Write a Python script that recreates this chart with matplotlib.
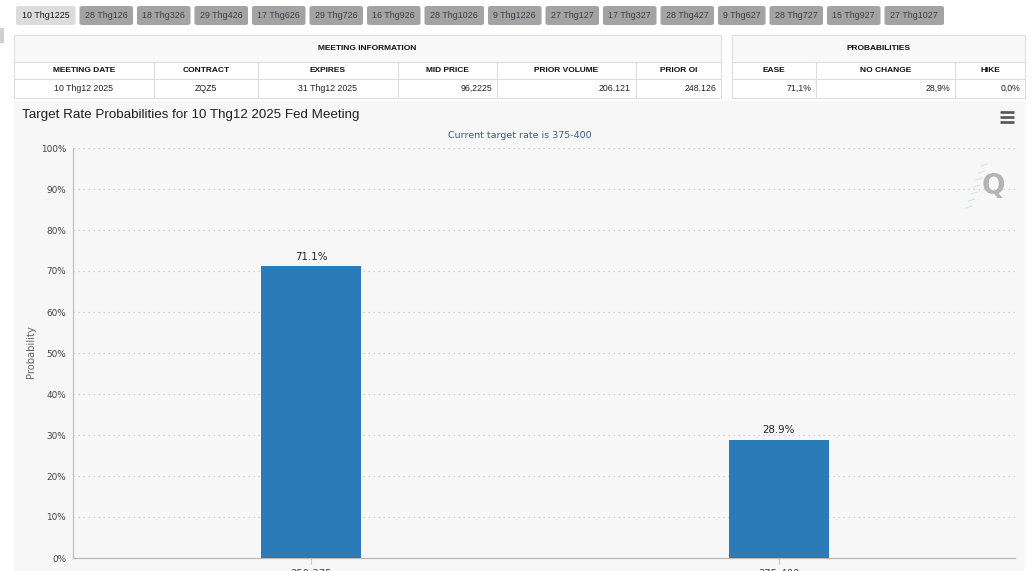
import matplotlib
matplotlib.use("Agg")
import matplotlib.pyplot as plt
from matplotlib.patches import Rectangle, FancyBboxPatch
from matplotlib.lines import Line2D

# ---------------- data ----------------
tab_labels = ["10 Thg1225", "28 Thg126", "18 Thg326", "29 Thg426", "17 Thg626",
              "29 Thg726", "16 Thg926", "28 Thg1026", "9 Thg1226", "27 Thg127",
              "17 Thg327", "28 Thg427", "9 Thg627", "28 Thg727", "15 Thg927",
              "27 Thg1027"]
meeting_title = "MEETING INFORMATION"
meeting_cols = ["MEETING DATE", "CONTRACT", "EXPIRES", "MID PRICE", "PRIOR VOLUME", "PRIOR OI"]
meeting_vals = ["10 Thg12 2025", "ZQZ5", "31 Thg12 2025", "96,2225", "206.121", "248.126"]
prob_title = "PROBABILITIES"
prob_cols = ["EASE", "NO CHANGE", "HIKE"]
prob_vals = ["71,1%", "28,9%", "0,0%"]

chart_title = "Target Rate Probabilities for 10 Thg12 2025 Fed Meeting"
chart_subtitle = "Current target rate is 375-400"
categories = ["350-375", "375-400"]
probabilities = [71.1, 28.9]
y_ticks = [0, 10, 20, 30, 40, 50, 60, 70, 80, 90, 100]

# ---------------- layout helpers ----------------
W, H = 1032, 571
fig = plt.figure(figsize=(W / 100, H / 100), dpi=100)
fig.patch.set_facecolor("white")
SANS = "Liberation Sans"


def fx(x):
    return x / W


def fy(y):
    return 1 - y / H


def rect(x0, y0, x1, y1, fc, ec="none", lw=0.8, z=1):
    fig.add_artist(Rectangle((fx(x0), fy(y1)), fx(x1) - fx(x0), fy(y0) - fy(y1),
                             transform=fig.transFigure, facecolor=fc, edgecolor=ec,
                             linewidth=lw, zorder=z))


def hline(x0, x1, y, color="#dedede", lw=0.8, z=2):
    fig.add_artist(Line2D([fx(x0), fx(x1)], [fy(y), fy(y)], transform=fig.transFigure,
                          color=color, linewidth=lw, zorder=z))


def vline(x, y0, y1, color="#dedede", lw=0.8, z=2):
    fig.add_artist(Line2D([fx(x), fx(x)], [fy(y0), fy(y1)], transform=fig.transFigure,
                          color=color, linewidth=lw, zorder=z))


# ---------------- tabs ----------------
x = 16
for i, lab in enumerate(tab_labels):
    w = 6 * len(lab) - 0.5
    fc = "#dcdcdc" if i == 0 else "#a3a3a3"
    tc = "#1a1a1a" if i == 0 else "#38424c"
    fig.add_artist(FancyBboxPatch((fx(x), fy(25)), fx(w), fy(6) - fy(25),
                                  boxstyle="round,pad=0,rounding_size=0.003",
                                  transform=fig.transFigure, facecolor=fc,
                                  edgecolor="none", zorder=2))
    fig.text(fx(x + w / 2), fy(15.5), lab, ha="center", va="center",
             fontsize=6.4, family=SANS, color=tc, zorder=3)
    x += w + 4

# small grey marker at left
rect(0, 28, 4, 43, "#d0d0d0")

# ---------------- tables ----------------
def draw_table(edges, title, cols, vals, aligns):
    x0, x1 = edges[0], edges[-1]
    rect(x0, 35, x1, 62, "#f9f9f9", z=1)
    rect(x0, 62, x1, 98, "white", z=1)
    rect(x0, 35, x1, 98, "none", ec="#dedede", lw=0.8, z=2)
    hline(x0, x1, 62)
    hline(x0, x1, 79)
    for e in edges[1:-1]:
        vline(e, 62, 98)
    fig.text(fx((x0 + x1) / 2), fy(48.5), title, ha="center", va="center",
             fontsize=6, weight="bold", family=SANS, color="#111", zorder=3)
    for j, (c, v) in enumerate(zip(cols, vals)):
        a, b = edges[j], edges[j + 1]
        fig.text(fx((a + b) / 2), fy(71), c, ha="center", va="center",
                 fontsize=6, weight="bold", family=SANS, color="#111", zorder=3)
        if aligns[j] == "center":
            fig.text(fx((a + b) / 2), fy(88.5), v, ha="center", va="center",
                     fontsize=6.3, family=SANS, color="#222", zorder=3)
        else:
            fig.text(fx(b - 5), fy(88.5), v, ha="right", va="center",
                     fontsize=6.3, family=SANS, color="#222", zorder=3)


draw_table([14, 154, 258, 398, 497, 636, 721], meeting_title, meeting_cols, meeting_vals,
           ["center", "center", "center", "right", "right", "right"])
draw_table([732, 816, 955, 1025], prob_title, prob_cols, prob_vals,
           ["right", "right", "right"])

# ---------------- chart background ----------------
rect(14, 101, 1025, 571, "#f7f7f7", z=0)

fig.text(fx(22), fy(115), chart_title, ha="left", va="center", fontsize=9.6,
         family=SANS, color="#1e1e1e")
fig.text(fx(520), fy(135), chart_subtitle, ha="center", va="center", fontsize=6.8,
         family="DejaVu Sans", color="#3b5f82")
fig.text(fx(31), fy(352), "Probability", ha="center", va="center", rotation=90,
         fontsize=7.2, family="DejaVu Sans", color="#666666")

# hamburger menu icon
for yy in (112, 117, 122):
    fig.add_artist(Line2D([fx(1000), fx(1014)], [fy(yy), fy(yy)],
                          transform=fig.transFigure, color="#555555", linewidth=1.9,
                          solid_capstyle="butt"))

# watermark
for k in range(7):
    fig.add_artist(Line2D([fx(966 + k * 2.5), fx(972 + k * 2.5)],
                          [fy(208 - k * 7), fy(206 - k * 7)],
                          transform=fig.transFigure, color="#cfe7ef", linewidth=0.8))
fig.text(fx(993), fy(186), "Q", ha="center", va="center", fontsize=20, weight="bold",
         family="DejaVu Sans", color="#b4b4b4")

# ---------------- bar chart ----------------
ax = fig.add_axes([fx(73), fy(558), fx(1015) - fx(73), fy(148) - fy(558)])
ax.set_facecolor("none")
xs = list(range(len(categories)))
bars = ax.bar(xs, probabilities, width=0.214, color="#2b7bb9", zorder=3)
ax.set_xlim(-0.51, len(categories) - 0.495)
ax.set_ylim(0, 100)
ax.set_yticks(y_ticks)
ax.set_yticklabels([f"{t}%" for t in y_ticks])
ax.set_xticks(xs)
ax.set_xticklabels(categories)
ax.tick_params(axis="y", length=0, pad=5, labelsize=6.4, labelcolor="#444444")
ax.tick_params(axis="x", length=4, color="#cccccc", pad=4, labelsize=7.2,
               labelcolor="#444444")
for lab in ax.get_xticklabels() + ax.get_yticklabels():
    lab.set_family("DejaVu Sans")
ax.grid(axis="y", linestyle=(0, (1, 3)), color="#c8c8c8", linewidth=0.9, zorder=0)
ax.grid(axis="x", visible=False)
for s in ("top", "right"):
    ax.spines[s].set_visible(False)
ax.spines["left"].set_color("#c0c0c0")
ax.spines["bottom"].set_color("#b8b8b8")
ax.spines["left"].set_linewidth(0.9)
ax.spines["bottom"].set_linewidth(0.9)

for xi, v in zip(xs, probabilities):
    ax.annotate(f"{v}%", (xi, v), xytext=(0, 3.5), textcoords="offset points",
                ha="center", va="bottom", fontsize=7.4, family="DejaVu Sans",
                color="#222222")

fig.savefig("out.png", dpi=100, facecolor="white")
